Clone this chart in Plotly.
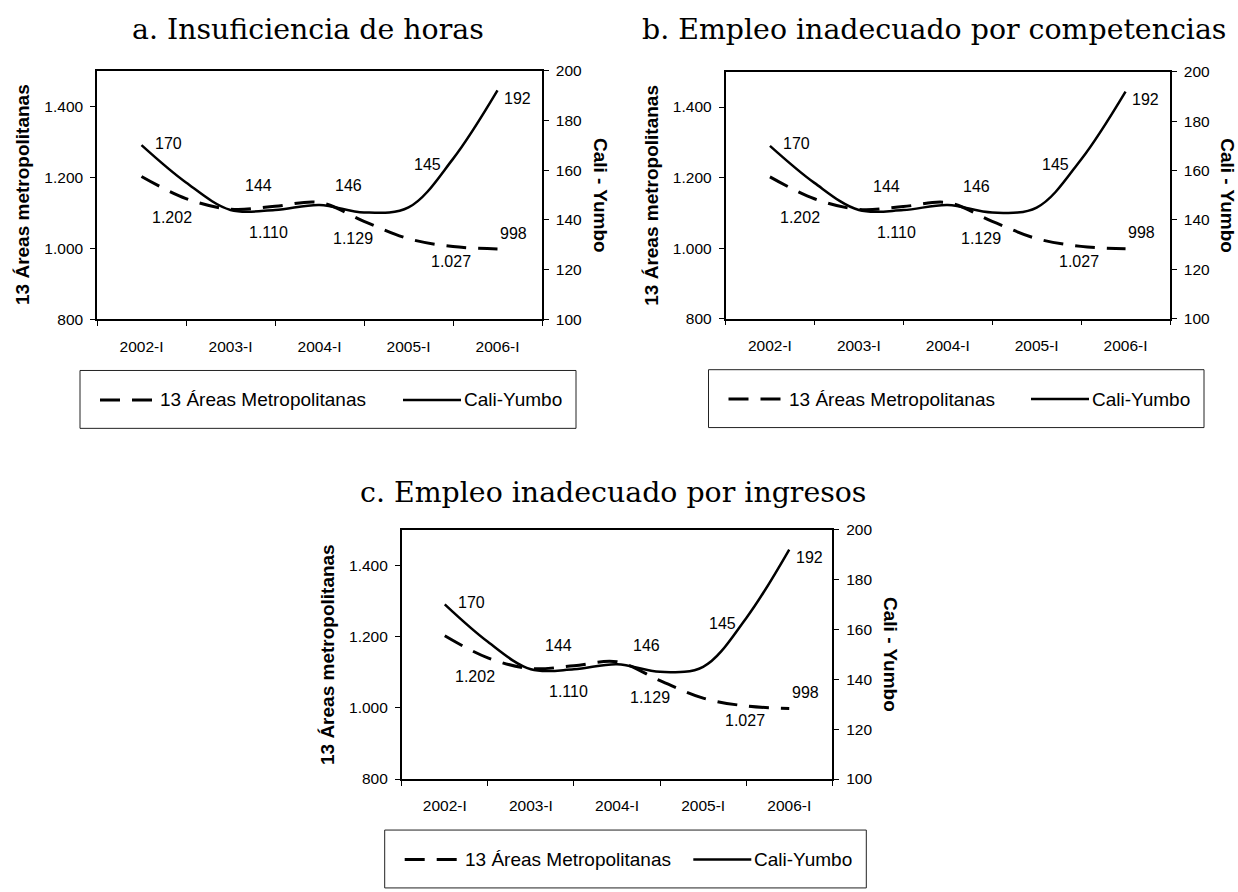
import plotly.graph_objects as go

# Semester periods on the horizontal axis
periods = ["2002-I", "2002-II", "2003-I", "2003-II", "2004-I",
           "2004-II", "2005-I", "2005-II", "2006-I"]

# Series values (thousands of people)
areas_13 = [1202, 1140, 1110, 1118, 1129, 1076, 1027, 1005, 998]
cali_yumbo = [170, 155, 144, 144, 146, 143, 145, 164.5, 192]

series_names = ["13 Áreas Metropolitanas", "Cali-Yumbo"]
panel_titles = ["a. Insuficiencia de horas",
                "b. Empleo inadecuado por competencias",
                "c. Empleo inadecuado por ingresos"]
left_axis_title = "13 Áreas metropolitanas"
right_axis_title = "Cali - Yumbo"
left_ticks = [800, 1000, 1200, 1400]
right_ticks = [100, 120, 140, 160, 180, 200]

# ---- layout / style constants ----
W, H = 1238, 892
SANS = "Liberation Sans, Arial, sans-serif"
SERIF = "DejaVu Serif, serif"
DASH = "20px,12px"

# plot boxes in pixels: left, right, top, bottom, title centre
panels = [
    dict(L=97, R=542, T=62.7, B=316.5, tx=307.5, ty=21),
    dict(L=725.5, R=1170, T=64, B=315.7, tx=934, ty=21),
    dict(L=401.7, R=832.3, T=530.7, B=785, tx=612.7, ty=493),
]

# value-label offsets in pixels (right, down) for the labelled semesters
metro_label_shift = [(30, 41), (38, 23), (33, 36), (42, 22.5), (16, -16)]
cali_label_shift = [(26.5, -2), (28, -24), (29, -19), (19, -43), (20, 8)]


def px_x(px):
    return px / W


def px_y(py):
    return 1 - py / H


def fmt(v):
    return f"{v:,.0f}".replace(",", ".")


xpos = [i + 1 for i in range(len(periods))]
label_idx = [i for i, p in enumerate(periods) if p.endswith("-I")]
label_vals = [xpos[i] for i in label_idx]
label_text = [periods[i] for i in label_idx]
boundaries = [v - 1 for v in label_vals] + [label_vals[-1] + 1]

fig = go.Figure()
annotations = []
shapes = []

for k, p in enumerate(panels):
    xa = "x" if k == 0 else f"x{k + 1}"
    yl = "y" if k == 0 else f"y{2 * k + 1}"
    yr = f"y{2 * k + 2}"

    fig.add_trace(go.Scatter(
        x=xpos, y=areas_13, xaxis=xa, yaxis=yl, mode="lines",
        name=series_names[0], showlegend=False,
        line=dict(color="black", width=3, dash=DASH, shape="spline", smoothing=1),
    ))
    fig.add_trace(go.Scatter(
        x=xpos, y=cali_yumbo, xaxis=xa, yaxis=yr, mode="lines",
        name=series_names[1], showlegend=False,
        line=dict(color="black", width=2.5, shape="spline", smoothing=1),
    ))

    xkey = "xaxis" if k == 0 else f"xaxis{k + 1}"
    ylkey = "yaxis" if k == 0 else f"yaxis{2 * k + 1}"
    yrkey = f"yaxis{2 * k + 2}"

    fig.layout[xkey] = dict(
        domain=[px_x(p["L"]), px_x(p["R"])], anchor=yl, range=[0, len(periods) + 1],
        tickmode="array", tickvals=label_vals, ticktext=label_text, ticks="",
        ticklabelstandoff=12,
        minor=dict(tickmode="array", tickvals=boundaries, ticks="outside",
                   ticklen=5, tickwidth=1, tickcolor="black"),
        showline=True, linecolor="black", linewidth=1.5, mirror=True,
        showgrid=False, zeroline=False,
        tickfont=dict(family=SANS, size=15.5, color="black"),
    )
    fig.layout[ylkey] = dict(
        domain=[px_y(p["B"]), px_y(p["T"])], anchor=xa, range=[800, 1500],
        tickmode="array", tickvals=left_ticks, tickformat=",d",
        ticks="outside", ticklen=5, tickwidth=1, tickcolor="black",
        ticklabelstandoff=4,
        showline=True, linecolor="black", linewidth=1.5,
        showgrid=False, zeroline=False,
        tickfont=dict(family=SANS, size=15.5, color="black"),
    )
    fig.layout[yrkey] = dict(
        overlaying=yl, side="right", anchor=xa, range=[100, 200],
        tickmode="array", tickvals=right_ticks,
        ticks="outside", ticklen=5, tickwidth=1, tickcolor="black",
        ticklabelstandoff=4,
        showline=True, linecolor="black", linewidth=1.5,
        showgrid=False, zeroline=False,
        tickfont=dict(family=SANS, size=15.5, color="black"),
    )

    # value labels
    for j, i in enumerate(label_idx):
        dx, dy = metro_label_shift[j]
        annotations.append(dict(
            x=xpos[i], y=areas_13[i], xref=xa, yref=yl, text=fmt(areas_13[i]),
            showarrow=False, xshift=dx, yshift=-dy,
            font=dict(family=SANS, size=16, color="black")))
        dx, dy = cali_label_shift[j]
        annotations.append(dict(
            x=xpos[i], y=cali_yumbo[i], xref=xa, yref=yr, text=fmt(cali_yumbo[i]),
            showarrow=False, xshift=dx, yshift=-dy,
            font=dict(family=SANS, size=16, color="black")))

    # panel title
    annotations.append(dict(
        x=px_x(p["tx"]), y=px_y(p["ty"]), xref="paper", yref="paper",
        text=panel_titles[k], showarrow=False, xanchor="center", yanchor="middle",
        font=dict(family=SERIF, size=28.4, color="black")))

    # axis titles
    mid = (p["T"] + p["B"]) / 2
    annotations.append(dict(
        x=px_x(p["L"] - 74), y=px_y(mid), xref="paper", yref="paper",
        text=f"<b>{left_axis_title}</b>", textangle=-90, showarrow=False,
        xanchor="center", yanchor="middle",
        font=dict(family=SANS, size=19, color="black")))
    annotations.append(dict(
        x=px_x(p["R"] + 58), y=px_y(mid), xref="paper", yref="paper",
        text=f"<b>{right_axis_title}</b>", textangle=90, showarrow=False,
        xanchor="center", yanchor="middle",
        font=dict(family=SANS, size=19, color="black")))

    # legend box with line keys
    top = p["B"] + 52
    cy = top + 30
    shapes.append(dict(type="rect", xref="paper", yref="paper",
                       x0=px_x(p["L"] - 17), x1=px_x(p["R"] + 34),
                       y0=px_y(top + 59), y1=px_y(top),
                       line=dict(color="#222", width=1), fillcolor="rgba(0,0,0,0)"))
    shapes.append(dict(type="line", xref="paper", yref="paper",
                       x0=px_x(p["L"] + 3), x1=px_x(p["L"] + 58),
                       y0=px_y(cy), y1=px_y(cy),
                       line=dict(color="black", width=3, dash=DASH)))
    shapes.append(dict(type="line", xref="paper", yref="paper",
                       x0=px_x(p["R"] - 139), x1=px_x(p["R"] - 81),
                       y0=px_y(cy), y1=px_y(cy),
                       line=dict(color="black", width=2.5)))
    annotations.append(dict(
        x=px_x(p["L"] + 61), y=px_y(cy), xref="paper", yref="paper",
        text=series_names[0], showarrow=False, xanchor="left", yanchor="middle",
        font=dict(family=SANS, size=19, color="black")))
    annotations.append(dict(
        x=px_x(p["R"] - 80), y=px_y(cy), xref="paper", yref="paper",
        text=series_names[1], showarrow=False, xanchor="left", yanchor="middle",
        font=dict(family=SANS, size=19, color="black")))

fig.update_layout(
    width=W, height=H, margin=dict(l=0, r=0, t=0, b=0, pad=0),
    paper_bgcolor="white", plot_bgcolor="white",
    separators=",.", showlegend=False,
    annotations=annotations, shapes=shapes,
)

fig.write_html("out.html")
